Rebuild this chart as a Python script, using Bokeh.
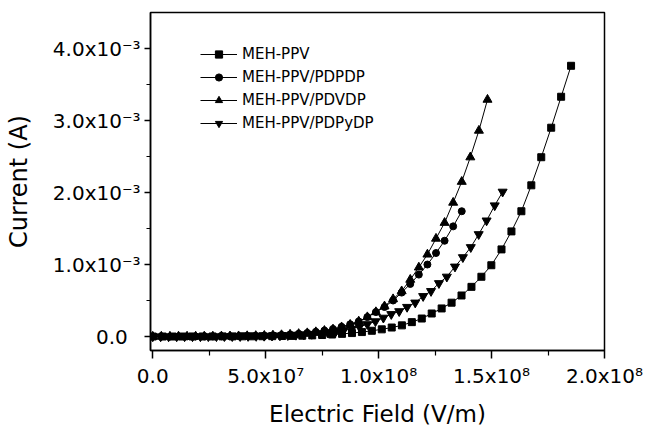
from bokeh.plotting import figure
from bokeh.models import (FixedTicker, Legend, LegendItem, Range1d,
                          CustomJSTickFormatter)
from bokeh.embed import file_html
from bokeh.resources import INLINE

# ---------------- data (field in MV/m, current in mA) ----------------
meh_field = [0, 4.4, 8.8, 13.2, 17.6, 22.1, 26.5, 30.9, 35.3, 39.7, 44.1, 48.5, 52.9,
             57.3, 61.7, 66.2, 70.6, 75.0, 79.4, 83.8, 88.2, 92.6, 97.0, 101.4, 105.8,
             110.3, 114.7, 119.1, 123.5, 127.9, 132.3, 136.7, 141.1, 145.5, 149.9, 154.4,
             158.8, 163.2, 167.6, 172.0, 176.4, 180.8, 185.2]
meh_current = [0, 0, 0, 0, 0.001, 0.001, 0.001, 0.002, 0.002, 0.003, 0.003, 0.004, 0.005,
               0.007, 0.009, 0.012, 0.016, 0.021, 0.028, 0.037, 0.048, 0.062, 0.08, 0.10,
               0.125, 0.155, 0.20, 0.25, 0.32, 0.39, 0.47, 0.57, 0.69, 0.83, 0.99, 1.21,
               1.46, 1.74, 2.10, 2.49, 2.90, 3.33, 3.76]

pdvdp_field = [0, 3.8, 7.6, 11.4, 15.2, 19.0, 22.8, 26.6, 30.4, 34.2, 38.0, 41.8, 45.6,
               49.4, 53.2, 57.0, 60.8, 64.6, 68.4, 72.2, 76.0, 79.8, 83.6, 87.4, 91.2,
               95.0, 98.8, 102.6, 106.4, 110.2, 114.0, 117.8, 121.6, 125.4, 129.2, 133.0,
               136.8, 140.6, 144.4, 148.2]
pdvdp_current = [0, 0, 0, 0.001, 0.001, 0.001, 0.002, 0.002, 0.003, 0.004, 0.005, 0.007,
                 0.009, 0.012, 0.016, 0.021, 0.028, 0.037, 0.048, 0.062, 0.08, 0.10, 0.13,
                 0.165, 0.21, 0.27, 0.34, 0.42, 0.52, 0.63, 0.79, 0.96, 1.14, 1.36, 1.58,
                 1.86, 2.15, 2.49, 2.86, 3.29]

pdpdp_field = [0, 3.8, 7.6, 11.4, 15.2, 19.0, 22.8, 26.6, 30.4, 34.2, 38.0, 41.8, 45.6,
               49.4, 53.2, 57.0, 60.8, 64.6, 68.4, 72.2, 76.0, 79.8, 83.6, 87.4, 91.2,
               95.0, 98.8, 102.6, 106.4, 110.2, 114.0, 117.8, 121.6, 125.4, 129.2, 133.0,
               136.8]
pdpdp_current = [0, 0, 0, 0.001, 0.001, 0.001, 0.002, 0.002, 0.003, 0.004, 0.005, 0.007,
                 0.01, 0.013, 0.017, 0.022, 0.029, 0.038, 0.05, 0.065, 0.083, 0.105, 0.135,
                 0.17, 0.21, 0.27, 0.34, 0.41, 0.50, 0.61, 0.73, 0.86, 1.00, 1.16, 1.33,
                 1.53, 1.74]

pdpydp_field = [0, 3.5, 7.0, 10.6, 14.1, 17.6, 21.1, 24.6, 28.2, 31.7, 35.2, 38.7, 42.2,
                45.8, 49.3, 52.8, 56.3, 59.8, 63.4, 66.9, 70.4, 73.9, 77.4, 81.0, 84.5,
                88.0, 91.5, 95.0, 98.6, 102.1, 105.6, 109.1, 112.6, 116.2, 119.7, 123.2,
                126.7, 130.2, 133.8, 137.3, 140.8, 144.3, 147.8, 151.4, 154.9]
pdpydp_current = [0, 0, 0, 0, 0.001, 0.001, 0.001, 0.002, 0.002, 0.003, 0.003, 0.004, 0.005,
                  0.006, 0.008, 0.01, 0.013, 0.017, 0.022, 0.028, 0.035, 0.044, 0.055, 0.068,
                  0.085, 0.105, 0.135, 0.17, 0.21, 0.26, 0.31, 0.35, 0.41, 0.47, 0.56, 0.63,
                  0.74, 0.83, 0.97, 1.10, 1.24, 1.42, 1.61, 1.82, 2.01]

series_names = ["MEH-PPV", "MEH-PPV/PDPDP", "MEH-PPV/PDVDP", "MEH-PPV/PDPyDP"]

x_tick_vals = [0, 5e7, 1e8, 1.5e8, 2e8]
x_tick_labels = ["0.0", "5.0x10\u2077", "1.0x10\u2078", "1.5x10\u2078", "2.0x10\u2078"]
x_minor = [2.5e7, 7.5e7, 1.25e8, 1.75e8]

y_tick_vals = [0, 1e-3, 2e-3, 3e-3, 4e-3]
y_tick_labels = ["0.0\u2007", "1.0x10\u207b\u00b3", "2.0x10\u207b\u00b3",
                 "3.0x10\u207b\u00b3", "4.0x10\u207b\u00b3"]
y_minor = [0.5e-3, 1.5e-3, 2.5e-3, 3.5e-3]

x_title = "Electric Field (V/m)"
y_title = "Current (A)"

FONT = "DejaVu Sans"

# ---------------- figure ----------------
p = figure(width=652, height=431, output_backend="svg", toolbar_location=None,
           x_range=Range1d(-1e6, 2.0e8), y_range=Range1d(-0.194e-3, 4.5e-3),
           min_border_left=150, min_border_right=48, min_border_top=12,
           min_border_bottom=81)
p.grid.visible = False
p.outline_line_color = "black"
p.outline_line_width = 1.5
p.background_fill_color = "white"
p.border_fill_color = "white"

fmt_code = """
let best = 0, bd = Infinity;
for (let i = 0; i < vals.length; i++) {
  const d = Math.abs(vals[i] - tick);
  if (d < bd) { bd = d; best = i; }
}
return labels[best];
"""

for ax, tv, tl, mn in ((p.xaxis, x_tick_vals, x_tick_labels, x_minor),
                       (p.yaxis, y_tick_vals, y_tick_labels, y_minor)):
    ax.ticker = FixedTicker(ticks=tv, minor_ticks=mn)
    ax.formatter = CustomJSTickFormatter(args=dict(vals=tv, labels=tl), code=fmt_code)
    ax.major_label_text_font = FONT
    ax.major_label_text_font_size = "20px"
    ax.major_label_text_color = "black"
    ax.axis_line_width = 1.5
    ax.major_tick_line_width = 1.5
    ax.minor_tick_line_width = 1.2
    ax.major_tick_in = 0
    ax.minor_tick_in = 0
    ax.axis_line_color = "black"
    ax.major_tick_line_color = "black"
    ax.minor_tick_line_color = "black"
    ax.axis_label_text_font = FONT
    ax.axis_label_text_font_style = "normal"
    ax.axis_label_text_color = "black"

p.yaxis.major_label_text_baseline = "alphabetic"
p.xaxis.axis_label_text_font_size = "23px"
p.yaxis.axis_label_text_font_size = "24px"
p.xaxis.major_tick_out = 8
p.xaxis.minor_tick_out = 5
p.yaxis.major_tick_out = 6
p.yaxis.minor_tick_out = 4
p.xaxis.major_label_standoff = 5
p.yaxis.major_label_standoff = 4
p.xaxis.axis_label = x_title
p.yaxis.axis_label = y_title
p.xaxis.axis_label_standoff = 10
p.yaxis.axis_label_standoff = 17

def mv(vals):
    return [v * 1e6 for v in vals]

def ma(vals):
    return [v * 1e-3 for v in vals]

specs = [
    (meh_field, meh_current, "square", 7),
    (pdpdp_field, pdpdp_current, "circle", 7),
    (pdvdp_field, pdvdp_current, "triangle", 9),
    (pdpydp_field, pdpydp_current, "inverted_triangle", 9),
]
items = []
for (fx, cy, marker, size), name in zip(specs, series_names):
    xs, ys = mv(fx), ma(cy)
    ln = p.line(xs, ys, line_color="black", line_width=1)
    sc = p.scatter(xs, ys, marker=marker, size=size, fill_color="black",
                   line_color="black")
    items.append(LegendItem(label=name, renderers=[ln, sc]))

legend = Legend(items=items, location=(48, 216), glyph_width=37, glyph_height=18,
                label_height=18, spacing=5, padding=2, margin=0,
                label_text_font=FONT, label_text_font_size="15px",
                label_text_color="black",
                label_standoff=5, border_line_alpha=0, background_fill_alpha=0)
p.add_layout(legend, "center")

open("out.html", "w").write(file_html(p, INLINE))
